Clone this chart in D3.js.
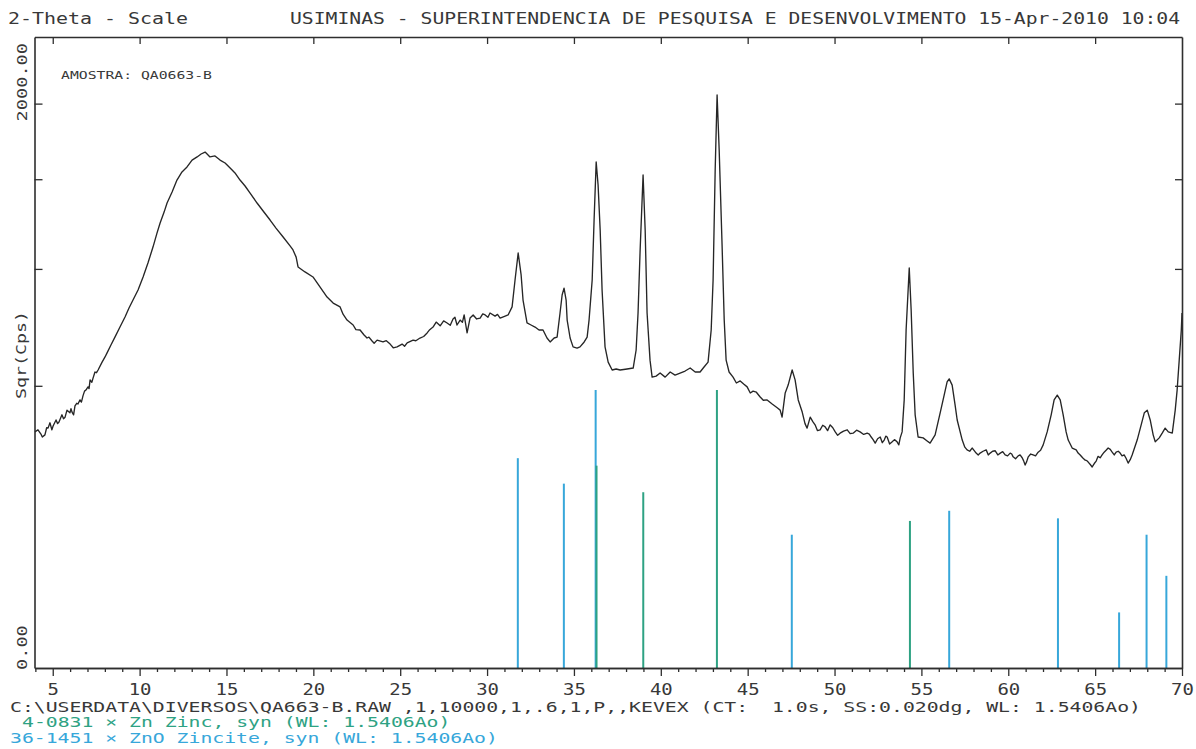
<!DOCTYPE html>
<html>
<head>
<meta charset="utf-8">
<script src="https://cdn.jsdelivr.net/npm/d3@7"></script>
<style>
  html, body { margin: 0; padding: 0; background: #fff; }
  svg { display: block; }
  text { font-family: "DejaVu Sans Mono", "Liberation Mono", monospace; fill: #383838; white-space: pre; }
</style>
</head>
<body>
<svg id="chart" width="1196" height="749"></svg>
<script>
// ---------------- DATA ----------------
// main scan (2-theta in degrees, intensity in Cps)
const twoTheta = [
3.98,4.15,4.32,4.55,4.73,4.84,5.02,5.19,5.36,5.53,
5.71,5.82,5.99,6.11,6.28,6.45,6.57,6.74,6.91,7.03,
7.15,7.32,7.43,7.61,7.84,8.01,8.12,8.35,8.58,8.87,
9.16,9.39,9.62,9.91,10.20,10.48,10.77,11.00,11.18,11.41,
11.58,11.87,12.15,12.44,12.73,13.02,13.31,13.54,13.77,13.94,
14.05,14.34,14.63,14.92,15.21,15.49,15.78,16.07,16.36,16.76,
17.11,17.51,17.85,18.26,18.66,18.83,19.01,19.12,19.52,19.98,
20.39,20.79,21.14,21.54,21.71,21.94,22.29,22.69,22.92,23.09,
23.38,23.67,24.01,24.42,24.82,25.11,25.40,25.74,26.14,26.55,
26.89,27.07,27.30,27.70,28.04,28.27,28.45,28.68,28.85,29.02,
29.20,29.60,29.89,30.17,30.46,30.75,
31.04,31.21,31.44,31.61,31.79,31.96,32.07,32.30,32.53,32.76,
32.99,33.22,33.45,33.63,33.86,34.03,34.20,34.32,34.43,34.55,
34.61,34.78,34.95,35.18,35.35,35.59,35.76,35.87,36.05,36.16,
36.28,36.39,36.51,36.62,36.79,36.97,37.20,37.43,37.66,38.06,
38.41,38.58,38.69,38.81,38.98,39.10,39.21,39.38,39.50,39.73,
39.96,40.25,40.54,40.82,41.11,41.40,41.69,41.98,42.26,42.49,
42.72,42.90,43.01,43.13,43.24,43.36,43.53,43.65,43.76,43.93,
44.16,44.57,44.97,45.31,45.72,
46.12,46.41,46.70,46.87,46.98,47.16,47.33,47.56,47.73,47.91,
48.14,48.42,48.60,48.88,49.17,49.46,49.75,50.04,50.32,50.73,
51.07,51.47,51.88,52.11,52.34,52.63,52.86,53.03,53.32,53.60,
53.78,53.89,54.01,54.12,54.30,54.41,54.53,54.64,54.81,55.10,
55.33,55.50,55.79,56.08,56.31,56.48,56.60,56.77,56.94,57.06,
57.35,57.63,57.92,58.15,58.38,58.73,58.96,59.25,59.54,59.82,
60.11,60.28,60.57,60.80,60.97,61.15,61.43,61.72,62.01,62.24,
62.47,62.64,62.82,62.99,63.16,63.33,63.45,63.68,63.91,64.14,
64.43,64.60,64.83,65.06,65.29,65.52,65.75,65.98,66.21,66.44,
66.67,66.90,67.13,67.42,67.65,67.83,68.00,68.17,68.34,68.46,
68.69,68.86,69.03,69.21,69.44,69.61,69.72,69.84,69.96,70.00
];
const counts = [
280,285,275,273,289,302,294,309,304,322,
316,334,327,329,345,350,361,372,388,397,
417,422,440,446,470,486,498,524,550,584,
619,651,680,718,768,824,890,950,995,1044,
1086,1138,1196,1236,1261,1296,1312,1327,1337,1322,
1312,1317,1296,1281,1256,1231,1196,1167,1133,1086,
1049,1008,972,933,895,878,848,808,788,768,
729,691,669,655,629,608,591,574,557,547,
537,540,534,527,518,527,531,540,547,564,
584,601,588,598,612,591,608,626,564,615,
626,615,626,633,622,615,
622,626,655,756,865,776,680,598,591,584,
574,574,547,534,547,550,633,699,725,680,
608,547,518,514,518,534,550,608,756,1008,
1286,1172,964,718,518,470,446,449,446,449,
452,508,633,878,1221,964,633,476,425,428,
437,425,440,431,437,443,452,440,440,455,
470,574,756,1246,1649,1348,890,608,476,440,
425,414,397,385,369,
361,350,340,334,316,380,402,446,417,361,
329,289,316,297,285,292,297,280,277,285,
277,280,277,268,254,268,261,268,257,257,
266,280,361,574,804,644,437,322,268,266,
259,254,273,327,374,411,420,402,347,309,
261,239,243,232,232,239,232,237,232,228,
232,224,226,222,207,224,228,234,250,280,
322,361,374,361,322,280,261,243,239,228,
217,213,203,215,222,234,243,234,234,232,
228,211,228,261,297,327,334,309,273,257,
266,277,289,280,277,334,388,476,574,633
];
// fine jagged structure of the scan, read between the points above
const twoThetaFine = [
4.40,4.65,4.95,5.28,5.62,6.05,6.20,6.38,6.65,6.83,7.09,7.25,7.52,
22.45,23.20,23.50,24.20,24.60,25.25,25.90,26.35,26.70,27.50,27.88,28.15,28.58,29.40,29.75,30.05,30.60,
44.35,44.77,45.15,45.50,45.90,
48.30,48.75,49.02,49.32,49.60,49.90,50.18,50.52,50.90,51.27,51.68,52.00,52.22,52.48,52.75,52.95,53.17,53.45,53.70,
57.50,57.78,58.03,58.27,58.55,58.85,59.10,59.40,59.68,59.96,60.20,60.42,60.68,60.88,61.06,61.29,61.57,61.86,
64.02,64.28,64.52,64.72,64.95,65.17,65.40,65.63,65.87,66.10,66.33,66.55,66.78,67.02
];
const countsFine = [
268,290,285,300,312,338,322,352,355,385,392,410,438,
575,550,530,538,515,520,538,552,575,605,590,618,600,612,630,618,628,
408,405,380,382,360,
300,305,283,296,283,290,272,282,276,284,274,275,262,264,255,270,252,262,250,
245,236,238,228,236,228,236,228,235,226,230,220,228,216,214,230,226,238,
232,222,216,208,210,225,228,238,240,228,236,226,221,218
];

// Reference patterns (relative intensity, %)
const znoPos = [31.77, 34.42, 36.25, 47.54, 56.60, 62.86, 66.38, 67.96, 69.10];
const znoInt = [57, 44, 100, 23, 32, 29, 4, 23, 11];
const znPos  = [36.30, 38.99, 43.23, 54.34];
const znInt  = [53, 40, 100, 28];
const stickFullScaleCps = 388;   // 100% stick height, in Cps

const xMajorTicks = [5,10,15,20,25,30,35,40,45,50,55,60,65,70];
const xMinorTicks = [4,6,7,8,9,11,12,13,14,16,17,18,19,21,22,23,24,26,27,28,29,
                     31,32,33,34,36,37,38,39,41,42,43,44,46,47,48,49,51,52,53,54,
                     56,57,58,59,61,62,63,64,66,67,68,69];
const yInnerTicks = [400, 800, 1200, 1600];
const yEndLabels  = [0, 2000];

const headerLeft  = "2-Theta - Scale";
const headerRight = "USIMINAS - SUPERINTENDENCIA DE PESQUISA E DESENVOLVIMENTO 15-Apr-2010 10:04";
const sampleLabel = "AMOSTRA: QA0663-B";
const yTitle      = "Sqr(Cps)";
const footerLine  = "C:\\USERDATA\\DIVERSOS\\QA663-B.RAW ,1,10000,1,.6,1,P,,KEVEX (CT:  1.0s, SS:0.020dg, WL: 1.5406Ao)";
const legendZn    = "4-0831 × Zn Zinc, syn (WL: 1.5406Ao)";
const legendZnO   = "36-1451 × ZnO Zincite, syn (WL: 1.5406Ao)";

// ---------------- LAYOUT ----------------
const W = 1196, H = 749;
const L = 34.5, R = 1182, T = 37, B = 668;
const ink = "#2e2e2e";
const colZn = "#2ea283";
const colZnO = "#37a7da";

const svg = d3.select("#chart");
svg.append("rect").attr("width", W).attr("height", H).attr("fill", "#fff");

const x = d3.scaleLinear().domain([3.95, 70]).range([L, R]);
const y = d3.scaleSqrt().domain([0, 2000]).range([B, T]);

// sticks
const sticks = [];
znoPos.forEach((p, i) => sticks.push({pos: p, val: znoInt[i] / 100 * stickFullScaleCps, c: colZnO}));
znPos.forEach((p, i) => sticks.push({pos: p, val: znInt[i] / 100 * stickFullScaleCps, c: colZn}));
svg.append("g").selectAll("line").data(sticks).join("line")
  .attr("x1", d => x(d.pos)).attr("x2", d => x(d.pos))
  .attr("y1", y(0)).attr("y2", d => y(d.val))
  .attr("stroke", d => d.c).attr("stroke-width", 2);

// trace
const pts = d3.range(Math.min(twoTheta.length, counts.length)).map(i => [twoTheta[i], counts[i]])
  .concat(d3.range(Math.min(twoThetaFine.length, countsFine.length)).map(i => [twoThetaFine[i], countsFine[i]]))
  .sort((a, b) => a[0] - b[0]);
svg.append("path").datum(pts)
  .attr("d", d3.line().x(d => x(d[0])).y(d => y(d[1])))
  .attr("fill", "none").attr("stroke", "#262626").attr("stroke-width", 1.35)
  .attr("stroke-linejoin", "round");

// axes
function styleAxis(g) {
  g.selectAll("path.domain").attr("stroke", ink).attr("stroke-width", 1.6);
  g.selectAll(".tick line").attr("stroke", ink).attr("stroke-width", 1.3);
  g.selectAll(".tick text").remove();
}
svg.append("g").attr("transform", `translate(0,${B})`)
  .call(d3.axisBottom(x).tickValues(xMinorTicks).tickSize(4).tickSizeOuter(0).tickFormat(""))
  .call(styleAxis);
const gxb = svg.append("g").attr("transform", `translate(0,${B})`)
  .call(d3.axisBottom(x).tickValues(xMajorTicks).tickSize(8).tickSizeOuter(0).tickFormat(d => d));
gxb.selectAll("path.domain").attr("stroke", ink).attr("stroke-width", 1.6);
gxb.selectAll(".tick line").attr("stroke", ink).attr("stroke-width", 1.3);
gxb.selectAll(".tick text")
  .attr("y", 27).attr("dy", 0)
  .style("font-family", '"DejaVu Sans Mono", monospace')
  .style("font-size", "15px").style("fill", "#383838")
  .attr("textLength", d => String(d).length * 11.4)
  .attr("lengthAdjust", "spacingAndGlyphs");
svg.append("g").attr("transform", `translate(0,${T})`)
  .call(d3.axisTop(x).tickValues(xMajorTicks.filter(v => v < 70)).tickSize(-7).tickSizeOuter(0).tickFormat(""))
  .call(styleAxis);
svg.append("g").attr("transform", `translate(${L},0)`)
  .call(d3.axisLeft(y).tickValues(yInnerTicks).tickSize(-8).tickSizeOuter(0).tickFormat(""))
  .call(styleAxis);
svg.append("g").attr("transform", `translate(${R},0)`)
  .call(d3.axisRight(y).tickValues(yInnerTicks).tickSize(-7).tickSizeOuter(0).tickFormat(""))
  .call(styleAxis);

// y end labels (rotated)
const fmt = d3.format(".2f");
yEndLabels.forEach(v => {
  const s = fmt(v);
  const top = v > 0;
  svg.append("text")
    .attr("transform", `translate(27,${top ? y(v) + 6 : y(v) + 2}) rotate(-90)`)
    .attr("text-anchor", top ? "end" : "start")
    .attr("font-size", 14)
    .attr("textLength", s.length * 11.2).attr("lengthAdjust", "spacingAndGlyphs")
    .text(s);
});
svg.append("text")
  .attr("transform", `translate(26,${y(492)}) rotate(-90)`)
  .attr("text-anchor", "middle").attr("font-size", 14)
  .attr("textLength", 88).attr("lengthAdjust", "spacingAndGlyphs")
  .text(yTitle);

// header
svg.append("text").attr("x", 8).attr("y", 24).attr("font-size", 15)
  .attr("textLength", 180).attr("lengthAdjust", "spacingAndGlyphs").text(headerLeft);
svg.append("text").attr("x", 290).attr("y", 24).attr("font-size", 15)
  .attr("textLength", 890).attr("lengthAdjust", "spacingAndGlyphs").text(headerRight);

// sample label
svg.append("text").attr("x", 61).attr("y", 79).attr("font-size", 10.5)
  .attr("textLength", 151).attr("lengthAdjust", "spacingAndGlyphs").text(sampleLabel);

// footer
svg.append("text").attr("x", 10).attr("y", 712).attr("font-size", 13.5)
  .attr("textLength", 1131).attr("lengthAdjust", "spacingAndGlyphs").text(footerLine);
svg.append("text").attr("x", 22).attr("y", 727).attr("font-size", 13.5)
  .attr("textLength", legendZn.length * 11.9).attr("lengthAdjust", "spacingAndGlyphs")
  .style("fill", colZn).text(legendZn);
svg.append("text").attr("x", 10).attr("y", 743).attr("font-size", 13.5)
  .attr("textLength", legendZnO.length * 11.9).attr("lengthAdjust", "spacingAndGlyphs")
  .style("fill", colZnO).text(legendZnO);
</script>
</body>
</html>
